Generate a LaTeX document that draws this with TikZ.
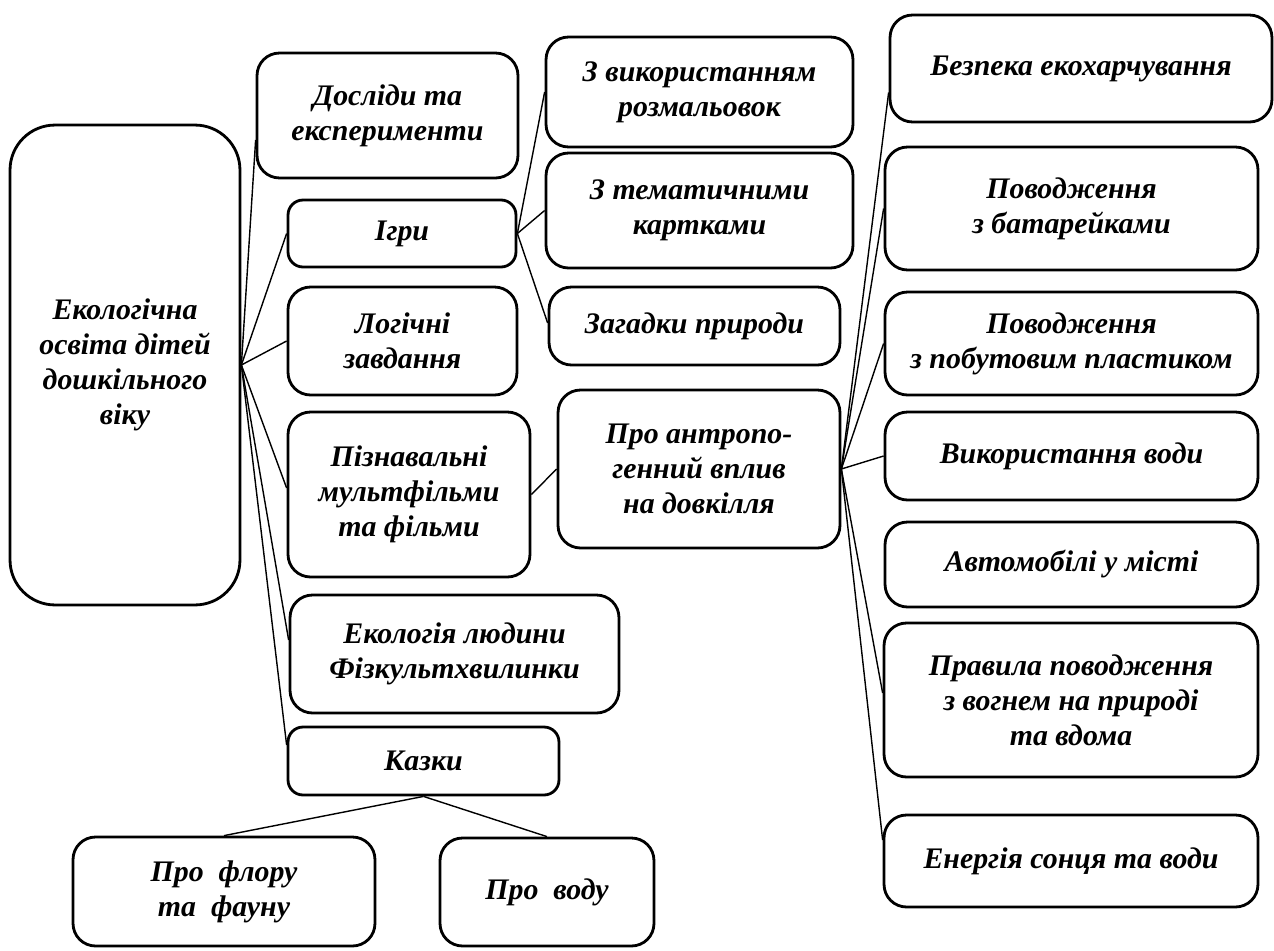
\documentclass[tikz,border=0pt]{standalone}
\usepackage{fontspec}
\setmainfont{Liberation Serif}

\begin{document}
\begin{tikzpicture}[
    x=0.02cm, y=-0.02cm,
    item/.style={draw=black, line width=1.6pt, rounded corners=0.45cm, align=center, inner sep=2pt,
        font=\fontsize{17}{20}\selectfont\bfseries\itshape},
    link/.style={draw=black, line width=0.8pt}
]

    \useasboundingbox (0,0) rectangle (1274,950);

    \node[item, rounded corners=0.9cm, minimum width=4.6cm, minimum height=9.6cm] (root) at (125,365) {Екологічна\\освіта дітей\\дошкільного\\віку};

    \node[item, minimum width=5.22cm, minimum height=2.5cm] (dosl) at (387.5,115.5) {Досліди та\\експерименти};
    \node[item, rounded corners=0.3cm, minimum width=4.56cm, minimum height=1.34cm] (igry) at (402,233.5) {Ігри};
    \node[item, minimum width=4.58cm, minimum height=2.16cm] (logic) at (402.5,341) {Логічні\\завдання};
    \node[item, minimum width=4.84cm, minimum height=3.3cm] (pizn) at (409,494.5) {Пізнавальні\\мультфільми\\та фільми};
    \node[item, minimum width=6.58cm, minimum height=2.36cm] (ekol) at (454.5,654) {Екологія людини\\Фізкультхвилинки};
    \node[item, rounded corners=0.3cm, minimum width=5.42cm, minimum height=1.36cm] (kazky) at (423.5,761) {Казки};

    \node[item, minimum width=6.04cm, minimum height=2.18cm] (flora) at (224,891.5) {Про~ флору\\та~ фауну};
    \node[item, minimum width=4.28cm, minimum height=2.16cm] (voda) at (547,892) {Про~ воду};

    \node[item, minimum width=6.14cm, minimum height=2.2cm] (vykor) at (699.5,92) {З використанням\\розмальовок};
    \node[item, minimum width=6.14cm, minimum height=2.3cm] (temat) at (699.5,210.5) {З тематичними\\картками};
    \node[item, minimum width=5.82cm, minimum height=1.56cm] (zagad) at (694.5,326) {Загадки природи};
    \node[item, minimum width=5.64cm, minimum height=3.16cm] (antro) at (699,469) {Про антропо-\\генний вплив\\на довкілля};

    \node[item, minimum width=7.64cm, minimum height=2.14cm] (bezp) at (1081,68.5) {Безпека екохарчування};
    \node[item, minimum width=7.46cm, minimum height=2.46cm] (batar) at (1071.5,208.5) {Поводження\\з батарейками};
    \node[item, minimum width=7.46cm, minimum height=2.06cm] (plast) at (1071.5,343.5) {Поводження\\з побутовим пластиком};
    \node[item, minimum width=7.46cm, minimum height=1.76cm] (vvody) at (1071.5,456) {Використання води};
    \node[item, minimum width=7.46cm, minimum height=1.7cm] (avto) at (1071.5,564.5) {Автомобілі у місті};
    \node[item, minimum width=7.48cm, minimum height=3.08cm] (pravyla) at (1071,700) {Правила поводження\\з вогнем на природі\\та вдома};
    \node[item, minimum width=7.48cm, minimum height=1.84cm] (energ) at (1071,861) {Енергія сонця та води};

    \draw[link] (root.east) -- ([yshift=-0.49cm]dosl.west);
    \draw[link] (root.east) -- (igry.west);
    \draw[link] (root.east) -- (logic.west);
    \draw[link] (root.east) -- ([yshift=0.13cm]pizn.west);
    \draw[link] (root.east) -- ([yshift=0.28cm]ekol.west);
    \draw[link] (root.east) -- ([yshift=0.32cm]kazky.west);

    \draw[link] (igry.east) -- (vykor.west);
    \draw[link] (igry.east) -- (temat.west);
    \draw[link] (igry.east) -- ([yshift=0.06cm]zagad.west);

    \draw[link] (pizn.east) -- (antro.west);

    \draw[link] (antro.east) -- ([yshift=-0.48cm]bezp.west);
    \draw[link] (antro.east) -- (batar.west);
    \draw[link] (antro.east) -- (plast.west);
    \draw[link] (antro.east) -- (vvody.west);
    \draw[link] (antro.east) -- ([yshift=0.14cm]pravyla.west);
    \draw[link] (antro.east) -- ([yshift=0.42cm]energ.west);

    \draw[link] (kazky.south) -- (flora.north);
    \draw[link] (kazky.south) -- (voda.north);

\end{tikzpicture}
\end{document}
